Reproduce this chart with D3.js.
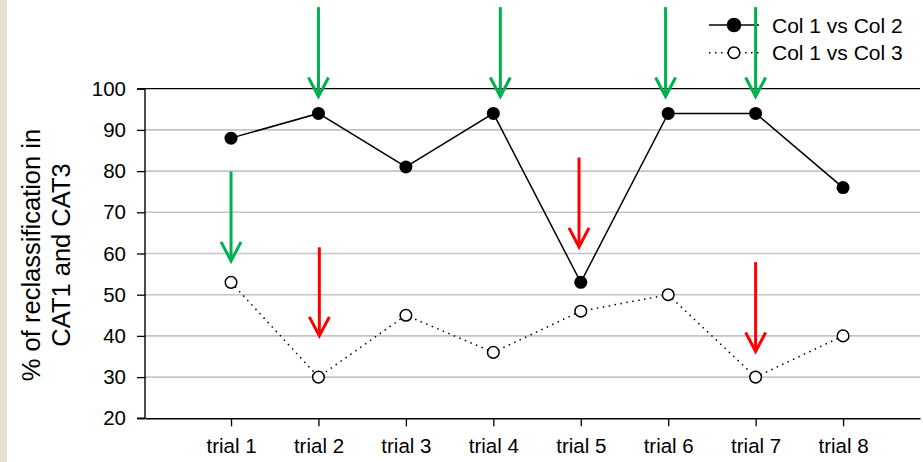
<!DOCTYPE html>
<html><head><meta charset="utf-8">
<script src="https://cdn.jsdelivr.net/npm/d3@7"></script>
<style>
html,body{margin:0;padding:0;background:#fff;}
svg{display:block;font-family:"Liberation Sans",Arial,sans-serif;}
</style></head>
<body><svg id="c" width="923" height="462"></svg>
<script>
const categories = ["trial 1","trial 2","trial 3","trial 4","trial 5","trial 6","trial 7","trial 8"];
const col1vs2 = [88, 94, 81, 94, 53, 94, 94, 76];
const col1vs3 = [53, 30, 45, 36, 46, 50, 30, 40];
const yTicks = [20, 30, 40, 50, 60, 70, 80, 90, 100];
const seriesNames = ["Col 1 vs Col 2", "Col 1 vs Col 3"];
// arrows: position (trial number), from value, to value
const greenArrows = [
  {pos: 2.0, from: 119.8, to: 98.1},
  {pos: 4.08, from: 119.8, to: 98.1},
  {pos: 5.97, from: 119.8, to: 98.1},
  {pos: 7.0, from: 119.8, to: 98.1},
  {pos: 1.0, from: 79.9, to: 58.2}
];
const redArrows = [
  {pos: 2.01, from: 61.5, to: 40.0},
  {pos: 4.98, from: 83.3, to: 61.6},
  {pos: 7.0, from: 57.9, to: 36.2}
];

const svg = d3.select("#c");
svg.append("rect").attr("x",0).attr("y",0).attr("width",7).attr("height",462).attr("fill","#E8E1CE");

const x = d3.scaleLinear().domain([0.016, 8.88]).range([145, 920]);
const y = d3.scaleLinear().domain([20, 100]).range([418.3, 88.7]);

// gridlines
svg.append("g").selectAll("line").data(yTicks.filter(t => t > 20 && t < 100)).join("line")
  .attr("x1", x.range()[0]).attr("x2", x.range()[1])
  .attr("y1", d => y(d)).attr("y2", d => y(d))
  .attr("stroke", "#C4C4C4").attr("stroke-width", 1.6);
// top line
svg.append("line").attr("x1", x.range()[0]).attr("x2", x.range()[1])
  .attr("y1", y(100)).attr("y2", y(100)).attr("stroke", "#000").attr("stroke-width", 1.3);

// y axis
const yAxis = d3.axisLeft(y).tickValues(yTicks).tickSize(8).tickPadding(11).tickFormat(d3.format("d"));
const gy = svg.append("g").attr("transform", `translate(${x.range()[0]},0)`).call(yAxis);
gy.select(".domain").attr("stroke-width", 1.4).attr("d", `M-8,${y(100)}H0V${y(20)}H-8`);
gy.selectAll(".tick line").attr("stroke-width", 1.3);
gy.selectAll("text").attr("font-size", 20.5).attr("fill", "#000").attr("font-family", "Liberation Sans, Arial, sans-serif");

// x axis
const xAxis = d3.axisBottom(x).tickValues(d3.range(1, 9)).tickSize(8).tickSizeOuter(0).tickPadding(12)
  .tickFormat(d => categories[d - 1]);
const gx = svg.append("g").attr("transform", `translate(0,${y(20)})`).call(xAxis);
gx.select(".domain").attr("stroke-width", 1.4);
gx.selectAll(".tick line").attr("stroke-width", 1.3);
gx.selectAll("text").attr("font-size", 20.5).attr("fill", "#000").attr("font-family", "Liberation Sans, Arial, sans-serif");

// y title
const yt = svg.append("text").attr("transform", "translate(40,255) rotate(-90)")
  .attr("text-anchor", "middle").attr("font-size", 25.5).attr("fill", "#000");
yt.append("tspan").attr("x", 0).attr("dy", 0).text("% of reclassification in");
yt.append("tspan").attr("x", 0).attr("dy", 30).text("CAT1 and CAT3");

// lines
const line = d3.line().x((d, i) => x(i + 1)).y(d => y(d));
svg.append("path").datum(col1vs3).attr("d", line).attr("fill", "none")
  .attr("stroke", "#000").attr("stroke-width", 1.5).attr("stroke-dasharray", "1.5,4.5");
svg.append("path").datum(col1vs2).attr("d", line).attr("fill", "none")
  .attr("stroke", "#000").attr("stroke-width", 1.5);

svg.append("g").selectAll("circle").data(col1vs3).join("circle")
  .attr("cx", (d, i) => x(i + 1)).attr("cy", d => y(d)).attr("r", 5.8)
  .attr("fill", "#fff").attr("stroke", "#000").attr("stroke-width", 1.5);
svg.append("g").selectAll("circle").data(col1vs2).join("circle")
  .attr("cx", (d, i) => x(i + 1)).attr("cy", d => y(d)).attr("r", 6.5)
  .attr("fill", "#000");

// legend
const leg = svg.append("g");
const legRows = [{y: 25, dash: null, fill: "#000", r: 6.5}, {y: 52.7, dash: "1.5,4.5", fill: "#fff", r: 5.8}];
legRows.forEach((r, i) => {
  leg.append("line").attr("x1", 709).attr("x2", 759).attr("y1", r.y).attr("y2", r.y)
    .attr("stroke", "#000").attr("stroke-width", 1.5).attr("stroke-dasharray", r.dash);
  leg.append("circle").attr("cx", 734).attr("cy", r.y).attr("r", r.r)
    .attr("fill", r.fill).attr("stroke", "#000").attr("stroke-width", 1.5);
  leg.append("text").attr("x", 772).attr("y", r.y + 7.5).attr("font-size", 21).attr("fill", "#000")
    .text(seriesNames[i]);
});

// arrows
function drawArrows(data, color) {
  const g = svg.append("g").attr("stroke", color).attr("stroke-width", 3).attr("fill", "none")
    .attr("stroke-linecap", "butt");
  data.forEach(a => {
    const ax = x(a.pos), y0 = y(a.from), y1 = y(a.to);
    g.append("line").attr("x1", ax).attr("x2", ax).attr("y1", y0).attr("y2", y1 - 1);
    g.append("path").attr("d", `M${ax - 10},${y1 - 19}L${ax},${y1}L${ax + 10},${y1 - 19}`)
      .attr("stroke-linejoin", "miter");
  });
}
drawArrows(greenArrows, "#00B050");
drawArrows(redArrows, "#FF0000");
</script></body></html>
